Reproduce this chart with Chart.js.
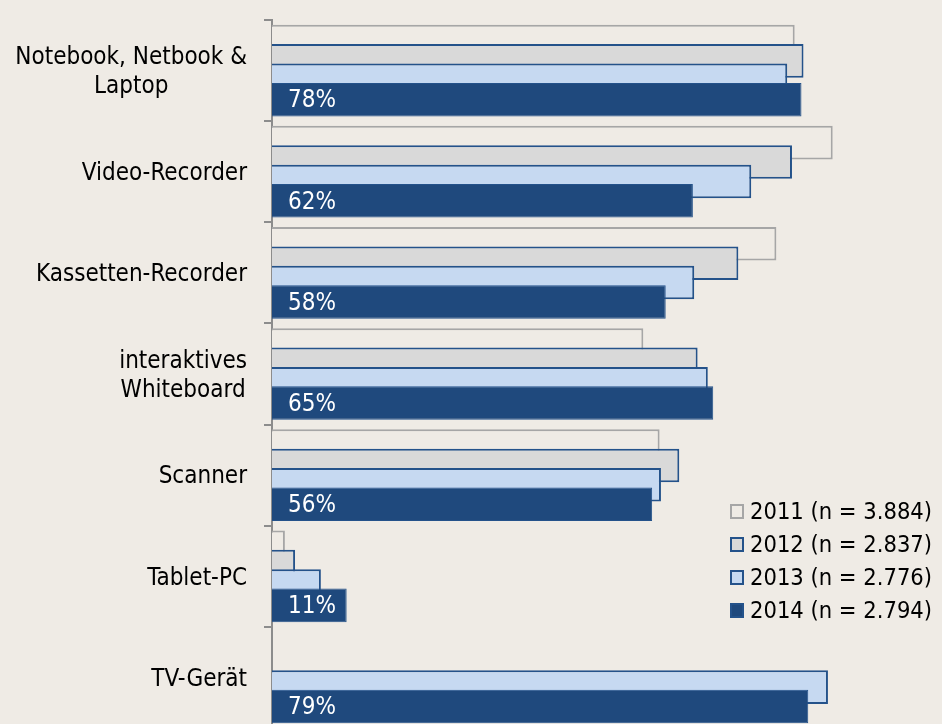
<!DOCTYPE html>
<html><head><meta charset="utf-8">
<script src="https://cdn.jsdelivr.net/npm/chart.js@4"></script>
<style>
html,body{margin:0;padding:0;background:#efebe5;overflow:hidden;width:942px;height:724px}
#wrap{position:absolute;left:0;top:0;width:942px;height:730px}
</style></head><body>
<div id="wrap"><canvas id="c" width="942" height="730"></canvas></div>
<script>
const categories = [["Notebook, Netbook &","Laptop"],"Video-Recorder","Kassetten-Recorder",["interaktives","Whiteboard"],"Scanner","Tablet-PC","TV-Gerät"];
const seriesLabels = ["2011 (n = 3.884)","2012 (n = 2.837)","2013 (n = 2.776)","2014 (n = 2.794)"];
const values2011 = [77.0, 82.6, 74.3, 54.7, 57.1, 1.9, null];
const values2012 = [78.3, 76.6, 68.7, 62.7, 60.0, 3.4, null];
const values2013 = [75.9, 70.6, 62.2, 64.2, 57.3, 7.2, 81.9];
const values2014 = [78, 62, 58, 65, 56, 11, 79];

const BG = '#efebe5';
const FONT = '"DejaVu Sans Condensed", "DejaVu Sans", sans-serif';

const drawOrderPlugin = {
  id: 'drawOrder',
  beforeDatasetsDraw(chart) {
    const metas = chart.getSortedVisibleDatasetMetas();
    for (const meta of metas) meta.controller.draw();
    return false;
  }
};

const textPlugin = {
  id: 'texts',
  afterDraw(chart) {
    const ctx = chart.ctx;
    const ys = chart.scales.y, xs = chart.scales.x;
    ctx.save();
    // category labels
    ctx.font = '24px ' + FONT;
    ctx.fillStyle = '#000';
    ctx.textBaseline = 'middle';
    ctx.textAlign = 'center';
    categories.forEach((lab, i) => {
      const lines = Array.isArray(lab) ? lab : [lab];
      const cy = ys.getPixelForValue(i) + 2;
      const maxW = Math.max(...lines.map(l => ctx.measureText(l).width));
      const right = ys.right - 25;
      const cx = right - maxW / 2;
      lines.forEach((l, j) => ctx.fillText(l, cx, cy + (j - (lines.length - 1) / 2) * 29));
    });
    // value labels on 2014 bars
    const meta = chart.getDatasetMeta(3);
    ctx.font = '24px ' + FONT;
    ctx.fillStyle = '#ffffff';
    ctx.textAlign = 'left';
    meta.data.forEach((el, i) => {
      if (values2014[i] == null) return;
      ctx.fillText(values2014[i] + '%', xs.getPixelForValue(0) + 16, el.y + 1.5);
    });
    // legend
    ctx.font = '23.5px ' + FONT;
    const lx = 730, ly0 = 511.5, step = 33;
    chart.data.datasets.forEach((ds, i) => {
      const cy = ly0 + i * step;
      ctx.fillStyle = ds.backgroundColor;
      ctx.fillRect(lx, cy - 7.5, 14, 15);
      ctx.strokeStyle = ds.borderColor;
      ctx.lineWidth = 2;
      ctx.strokeRect(lx + 1, cy - 6.5, 12, 13);
      ctx.fillStyle = '#000';
      ctx.textAlign = 'left';
      ctx.fillText(ds.label, lx + 20, cy + 1.5);
    });
    ctx.restore();
  }
};

new Chart(document.getElementById('c'), {
  type: 'bar',
  data: {
    labels: categories,
    datasets: [
      { label: seriesLabels[0], data: values2011, backgroundColor: BG, borderColor: '#a6a6a6', borderWidth: 2 },
      { label: seriesLabels[1], data: values2012, backgroundColor: '#d9d9d9', borderColor: '#24528a', borderWidth: 2 },
      { label: seriesLabels[2], data: values2013, backgroundColor: '#c6d9f1', borderColor: '#24528a', borderWidth: 2 },
      { label: seriesLabels[3], data: values2014, backgroundColor: '#1f497d', borderColor: '#24528a', borderWidth: 1 }
    ]
  },
  options: {
    indexAxis: 'y',
    responsive: false,
    animation: false,
    categoryPercentage: 0.767,
    barPercentage: 1.73,
    layout: { padding: { top: 20, bottom: 2, left: 0, right: 0 } },
    plugins: { legend: { display: false }, tooltip: { enabled: false } },
    scales: {
      x: { display: false, min: 0, max: 98.7 },
      y: {
        offset: true,
        z: 1,
        grid: { display: true, offset: true, drawOnChartArea: false, drawTicks: true, tickLength: 8, color: '#8c8c8c', lineWidth: 2 },
        border: { display: true, color: '#8c8c8c', width: 2 },
        ticks: { display: false },
        afterFit(scale) { scale.width = 272; }
      }
    }
  },
  plugins: [drawOrderPlugin, textPlugin]
});
</script>
</body></html>
